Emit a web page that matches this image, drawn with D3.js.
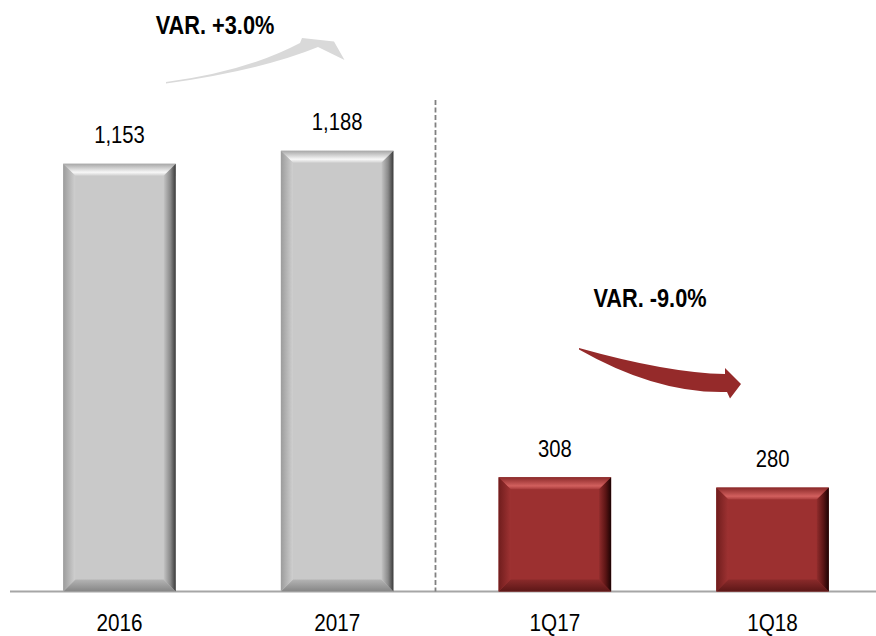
<!DOCTYPE html>
<html>
<head>
<meta charset="utf-8">
<script src="https://cdn.jsdelivr.net/npm/d3@7"></script>
<style>
  body { margin: 0; background: #fff; }
  text { font-family: "Liberation Sans", Arial, sans-serif; }
</style>
</head>
<body>
<div id="chart"></div>
<script>
// chart values
var categories = ["2016", "2017", "1Q17", "1Q18"];
var values = [1153, 1188, 308, 280];
var barKind = ["gray", "gray", "red", "red"];
var varLabels = ["VAR. +3.0%", "VAR. -9.0%"];

var width = 876, height = 636;
var baseY = 591.5;
var bevel = 12;

var svg = d3.select("#chart")
    .append("svg")
    .attr("width", width)
    .attr("height", height);

var x = d3.scaleBand()
    .domain(categories)
    .range([10.6, 881.4])
    .paddingInner(0.483)
    .paddingOuter(0.2415);

var y = d3.scaleLinear()
    .domain([0, 1594])
    .range([baseY, 0]);

// bevel colours, one set per bar kind
var palette = {
    gray: {
        face: "#c9c9c9",
        top: [["0%", "#a6a6a6"], ["72%", "#f7f7f7"], ["100%", "#d2d2d2"]],
        left: [["0%", "#9c9c9c"], ["100%", "#cfcfcf"]],
        right: [["0%", "#c4c4c4"], ["55%", "#8a8a8a"], ["100%", "#3a3a3a"]],
        bottom: [["0%", "#b4b4b4"], ["100%", "#858585"]]
    },
    red: {
        face: "#9c3030",
        top: [["0%", "#8a2929"], ["72%", "#d2605e"], ["100%", "#a83b3b"]],
        left: [["0%", "#701d1d"], ["100%", "#9e3232"]],
        right: [["0%", "#902c2c"], ["55%", "#5a1414"], ["100%", "#1c0303"]],
        bottom: [["0%", "#8a2a2a"], ["100%", "#5c1717"]]
    }
};

var defs = svg.append("defs");
// gradient direction per bevel side
var dirs = {
    top: [0, 0, 0, 1],
    left: [0, 0, 1, 0],
    right: [0, 0, 1, 0],
    bottom: [0, 0, 0, 1]
};
Object.keys(palette).forEach(function (kind) {
    ["top", "left", "right", "bottom"].forEach(function (side) {
        var d = dirs[side];
        var g = defs.append("linearGradient")
            .attr("id", kind + "-" + side)
            .attr("x1", d[0]).attr("y1", d[1])
            .attr("x2", d[2]).attr("y2", d[3]);
        palette[kind][side].forEach(function (s) {
            g.append("stop").attr("offset", s[0]).attr("stop-color", s[1]);
        });
    });
});

var data = categories.map(function (c, i) {
    return { cat: c, value: values[i], kind: barKind[i] };
});

// axis line
svg.append("line")
    .attr("x1", 10).attr("x2", width)
    .attr("y1", baseY).attr("y2", baseY)
    .attr("stroke", "#a6a6a6")
    .attr("stroke-width", 2);

// dashed separator between annual and quarterly
var gapStart = x("2017") + x.bandwidth();
var sepX = gapStart + 0.4 * (x("1Q17") - gapStart);
svg.append("line")
    .attr("x1", sepX).attr("x2", sepX)
    .attr("y1", 100).attr("y2", baseY)
    .attr("stroke", "#808080")
    .attr("stroke-width", 1.8)
    .attr("stroke-dasharray", "5,2.5");

function pts(arr) {
    return arr.map(function (p) { return p.join(","); }).join(" ");
}

var bars = svg.selectAll(".bar")
    .data(data)
    .enter()
    .append("g")
    .attr("class", "bar");

bars.append("rect")
    .attr("x", function (d) { return x(d.cat); })
    .attr("y", function (d) { return y(d.value); })
    .attr("width", x.bandwidth())
    .attr("height", function (d) { return baseY - y(d.value); })
    .attr("fill", function (d) { return palette[d.kind].face; });

bars.append("polygon")
    .attr("points", function (d) {
        var x0 = x(d.cat), x1 = x0 + x.bandwidth(), y0 = y(d.value);
        return pts([[x0, y0], [x1, y0], [x1 - bevel, y0 + bevel], [x0 + bevel, y0 + bevel]]);
    })
    .attr("fill", function (d) { return "url(#" + d.kind + "-top)"; });

bars.append("polygon")
    .attr("points", function (d) {
        var x0 = x(d.cat), x1 = x0 + x.bandwidth(), y1 = baseY;
        return pts([[x0, y1], [x1, y1], [x1 - bevel, y1 - bevel], [x0 + bevel, y1 - bevel]]);
    })
    .attr("fill", function (d) { return "url(#" + d.kind + "-bottom)"; });

bars.append("polygon")
    .attr("points", function (d) {
        var x0 = x(d.cat), y0 = y(d.value), y1 = baseY;
        return pts([[x0, y0], [x0 + bevel, y0 + bevel], [x0 + bevel, y1 - bevel], [x0, y1]]);
    })
    .attr("fill", function (d) { return "url(#" + d.kind + "-left)"; });

bars.append("polygon")
    .attr("points", function (d) {
        var x1 = x(d.cat) + x.bandwidth(), y0 = y(d.value), y1 = baseY;
        return pts([[x1 - bevel, y0 + bevel], [x1, y0], [x1, y1], [x1 - bevel, y1 - bevel]]);
    })
    .attr("fill", function (d) { return "url(#" + d.kind + "-right)"; });

// value labels
var fmt = d3.format(",");
bars.append("g")
    .attr("transform", function (d) {
        return "translate(" + (x(d.cat) + x.bandwidth() / 2) + "," + (y(d.value) - 20.5) + ") scale(0.88,1)";
    })
    .append("text")
    .attr("text-anchor", "middle")
    .attr("font-size", 23)
    .attr("fill", "#000")
    .text(function (d) { return fmt(d.value); });

// category labels
svg.selectAll(".cat")
    .data(categories)
    .enter()
    .append("g")
    .attr("class", "cat")
    .attr("transform", function (d) {
        return "translate(" + (x(d) + x.bandwidth() / 2) + ",631) scale(0.9,1)";
    })
    .append("text")
    .attr("text-anchor", "middle")
    .attr("font-size", 23)
    .attr("fill", "#000")
    .text(function (d) { return d; });

// variation arrows
svg.append("path")
    .attr("d", "M166,82 Q246,71.5 300,43 L302,38 L334,41.5 L344.5,60 L318,47 Q262,70 166,83.5 Z")
    .attr("fill", "#d9d9d9");

svg.append("path")
    .attr("d", "M579,348 Q668,373 725,374 L725,368 L741,384 L730,398.5 L727,392 Q657,394 579,349.5 Z")
    .attr("fill", "#952a2a");

// variation labels
var varPos = [[215, 34], [650, 307]];
varLabels.forEach(function (t, i) {
    svg.append("g")
        .attr("transform", "translate(" + varPos[i][0] + "," + varPos[i][1] + ") scale(0.87,1)")
        .append("text")
        .attr("text-anchor", "middle")
        .attr("font-size", 25)
        .attr("font-weight", "bold")
        .attr("fill", "#000")
        .text(t);
});
</script>
</body>
</html>
